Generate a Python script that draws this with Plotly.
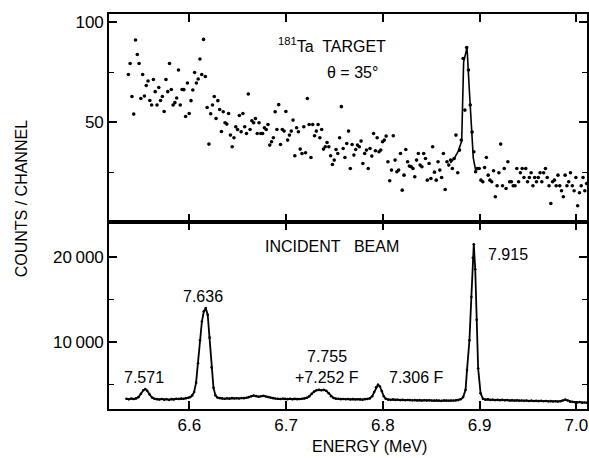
import plotly.graph_objects as go
from plotly.subplots import make_subplots

# ---------------- Data ----------------
# Upper panel: 181Ta target, theta = 35 deg (counts per channel)
target_channel_start = 6.537   # MeV, energy of first channel
target_channel_width = 0.00185 # MeV per channel
target_counts = [
    73.8, 79.3, 62.8, 54, 91, 83.8, 79.3, 61.8, 73.8, 63,
    68.3, 70.5, 60.8, 58.5, 71.3, 65.2, 58.5, 67.3, 60.8, 62.8,
    55.3, 71.3, 65.2, 79.3, 66.3, 58.5, 59.7, 62, 76, 58.5,
    66.3, 66.2, 52.8, 69.5, 54.3, 60.7, 66, 74.8, 69.5, 71.5,
    81.5, 73.8, 91.3, 72.8, 57.3, 39, 54.2, 58.5, 62.8, 51.8,
    60.7, 56.3, 45.3, 55.2, 49.7, 49,
    54.3, 43.5, 37.7, 42.2, 47.7, 46.3, 53.3, 45.2, 54.3, 47.7,
    44.3, 64, 46.3, 50.7, 49.7, 51.8, 44.3, 49.7, 44.3, 44.3,
    47.2, 46.3, 48.8, 38.5, 40.2, 42.2, 55.2, 46.3, 58.7, 38.8,
    46.3, 45.5, 55.3, 41, 43.5, 45.5, 51, 33.2, 47.2, 45.2,
    36.5, 34.3, 47.7, 34.7, 61.8, 48.8, 32.3, 48.8, 43.2, 45.5,
    48.8, 42.2, 46.3, 36.5, 37.7, 39.8, 37.7, 33.2, 28.8, 31,
    36.3, 34.3, 42.2, 57.7,
    36.8, 32.3, 39.3, 45.5, 26.8, 38.8, 33.5, 36.3, 38.5, 37.7,
    40.5, 29.3, 34.3, 36, 26.8, 36.8, 33, 44.3, 35.7, 42.2, 35.2,
    36, 40.2, 41, 43, 30.2, 20.7, 26, 43.2, 31, 25.2,
    26, 34.3, 16, 23.5, 36.3, 30.2, 28, 27.7, 26.8, 22.7, 31,
    34.3, 28.5, 27.7, 34.3, 31.8, 21, 29.3, 21.8, 37.7, 25, 21,
    30.2, 26, 22.3, 34.3, 16.3, 30.2, 28.5, 31, 26.8, 31.8,
    43.5,
    24.7, 36, 41, 81.8, 56, 87.3, 76, 58.5, 45, 35.2, 25.2, 26.8,
    26.8, 21, 20.2, 27.3, 32.3, 23.5, 21, 20.2, 25.7, 12.7,
    18.2, 24.7, 39, 18.2, 26.8, 16.8, 30.2, 20.2, 20.2, 18.2,
    18.2, 26.8, 20.2, 24.7, 26.8, 22.3, 26.8, 20.2, 22.3, 24.7,
    18.2, 22.3, 20.2, 22.3, 24.7, 20.2, 24.7, 26.8, 22.3, 18.2,
    9.3, 20.2, 21, 18.2, 23.5, 18.2, 15.7, 12.7, 23.5, 18.2,
    20.2, 24.7, 18.2, 15.7, 22.3, 8.2, 14.7, 18.2, 22.3, 15.7,
    19.3,
]
target_energy = [target_channel_start + target_channel_width * i
                 for i in range(len(target_counts))]

# Fitted peak line in upper panel
fit_energy = [6.8698, 6.874, 6.878, 6.8815, 6.8835, 6.8855, 6.887,
              6.8895, 6.8915, 6.8935, 6.8963]
fit_counts = [29.5, 32, 35.5, 40.5, 80, 85, 87.3, 65, 45, 32, 25]

# Lower panel: incident beam spectrum
beam_energy = [
    6.535, 6.5375, 6.540, 6.5425, 6.545, 6.5475, 6.550, 6.5525, 6.5545, 6.5565,
    6.559, 6.5615, 6.564, 6.5665, 6.569, 6.5715, 6.574, 6.5765, 6.579, 6.5815,
    6.584, 6.5865, 6.589, 6.5915, 6.594, 6.5965, 6.599, 6.601, 6.603, 6.605,
    6.607, 6.609, 6.611, 6.613, 6.615, 6.617, 6.619, 6.621, 6.623, 6.625,
    6.627, 6.629, 6.6315, 6.634, 6.6365, 6.639, 6.6415, 6.644, 6.6465, 6.649,
    6.6515, 6.654, 6.6565, 6.659, 6.6615, 6.664, 6.6665, 6.669, 6.6715, 6.674,
    6.6765, 6.679, 6.6815, 6.684, 6.6865, 6.689, 6.6915, 6.694, 6.6965, 6.699,
    6.7015, 6.704, 6.7065, 6.709, 6.7115, 6.714, 6.7165, 6.719, 6.7215, 6.724,
    6.7265, 6.729, 6.7315, 6.734, 6.7365, 6.739, 6.7415, 6.744, 6.7465, 6.749,
    6.7515, 6.754, 6.7565, 6.759, 6.7615, 6.764, 6.7665, 6.769, 6.7715, 6.774,
    6.7765, 6.779, 6.7815, 6.784, 6.7865, 6.789, 6.791, 6.793, 6.795, 6.797,
    6.799, 6.801, 6.803, 6.8055, 6.808, 6.8105, 6.813, 6.8155, 6.818, 6.8205,
    6.823, 6.8255, 6.828, 6.8305, 6.833, 6.8355, 6.838, 6.8405, 6.843, 6.8455,
    6.848, 6.8505, 6.853, 6.8555, 6.858, 6.8605, 6.863, 6.8655, 6.868, 6.8705,
    6.873, 6.8755, 6.878, 6.8805, 6.883, 6.8855, 6.887, 6.8895, 6.8915, 6.893,
    6.894, 6.8955, 6.897, 6.8985, 6.901, 6.9035, 6.906, 6.9085, 6.911, 6.9135,
    6.916, 6.9185, 6.921, 6.9235, 6.926, 6.9285, 6.931, 6.9335, 6.936, 6.9385,
    6.941, 6.9435, 6.946, 6.9485, 6.951, 6.9535, 6.956, 6.9585, 6.961, 6.9635,
    6.966, 6.9685, 6.971, 6.9735, 6.976, 6.9785, 6.981, 6.9835, 6.986, 6.9885,
    6.991, 6.9935, 6.996, 6.9985, 7.001, 7.0035, 7.006, 7.0085, 7.011,
]
beam_counts = [
    3300, 3250, 3330, 3280, 3350, 3500, 3900, 4300, 4450, 4250,
    3800, 3450, 3300, 3260, 3220, 3280, 3200, 3250, 3180, 3260,
    3230, 3300, 3270, 3320, 3300, 3380, 3420, 3500, 3700, 4100,
    5200, 7500, 10200, 12400, 13600, 14000, 13200, 10500, 7000, 4600,
    3700, 3450, 3380, 3350, 3300, 3360, 3320, 3380, 3330, 3360,
    3340, 3400, 3380, 3420, 3500, 3600, 3680, 3620, 3550, 3600,
    3650, 3580, 3500, 3420, 3380, 3330, 3300, 3280, 3320, 3290,
    3260, 3300, 3250, 3290, 3260, 3280, 3300, 3350, 3420, 3600,
    3900, 4150, 4300, 4350, 4300, 4350, 4250, 3950, 3600, 3400,
    3320, 3300, 3260, 3280, 3240, 3270, 3230, 3260, 3220, 3250,
    3230, 3200, 3260, 3280, 3350, 3600, 4100, 4650, 4950, 4750,
    4200, 3600, 3300, 3200, 3180, 3220, 3160, 3190, 3150, 3170,
    3130, 3160, 3140, 3120, 3150, 3110, 3140, 3100, 3130, 3090,
    3120, 3100, 3080, 3110, 3090, 3060, 3100, 3080, 3070, 3100,
    3090, 3120, 3150, 3250, 3500, 4350, 6700, 10200, 15300, 19900,
    21500, 18550, 12600, 6900, 3960, 3300, 3200, 3230, 3170, 3200,
    3150, 3180, 3140, 3170, 3120, 3150, 3100, 3130, 3090, 3120,
    3080, 3100, 3060, 3090, 3050, 3080, 3040, 3060, 3030, 3060,
    3020, 3050, 3000, 3030, 2990, 3020, 2980, 3010, 3100, 3200,
    3100, 2960, 2940, 2900, 2880, 2920, 2850, 2870, 2840,
]

x_ticks = [6.6, 6.7, 6.8, 6.9, 7.0]
x_tick_labels = ["6.6", "6.7", "6.8", "6.9", "7.0"]
top_y_ticks = [50, 100]
top_y_labels = ["50", "100"]
top_y_minor = [25, 75]
bot_y_ticks = [10000, 20000]
bot_y_labels = ["10\u2009000", "20\u2009000"]
bot_y_minor = [5000, 15000]

# ---------------- Figure ----------------
fig = make_subplots(rows=2, cols=1, shared_xaxes=True, vertical_spacing=0,
                    row_heights=[0.527, 0.473])

fig.add_trace(go.Scatter(x=target_energy, y=target_counts, mode="markers",
                         marker=dict(color="black", size=3.6),
                         showlegend=False), row=1, col=1)
fig.add_trace(go.Scatter(x=fit_energy, y=fit_counts, mode="lines",
                         line=dict(color="black", width=1.6),
                         showlegend=False), row=1, col=1)
fig.add_trace(go.Scatter(x=beam_energy, y=beam_counts, mode="lines+markers",
                         line=dict(color="black", width=1.8),
                         marker=dict(color="black", size=2.6),
                         showlegend=False), row=2, col=1)

font_family = "Liberation Sans, Arial, sans-serif"
axis_common = dict(showline=True, linewidth=1.6, linecolor="black", mirror="ticks",
                   ticks="inside", ticklen=8, tickwidth=1.5, tickcolor="black",
                   showgrid=False, zeroline=False, automargin=False)

fig.update_xaxes(range=[6.517, 7.011], tickvals=x_ticks, ticktext=x_tick_labels,
                 **axis_common)
fig.update_xaxes(showticklabels=False, row=1, col=1)
fig.update_xaxes(showticklabels=True, row=2, col=1,
                 tickfont=dict(size=17, color="black", family=font_family))

minor_common = dict(ticks="inside", ticklen=5, tickwidth=1.2, tickcolor="black")
fig.update_yaxes(range=[0, 104], tickvals=top_y_ticks, ticktext=top_y_labels,
                 minor=dict(tickvals=top_y_minor, **minor_common),
                 tickfont=dict(size=17, color="black", family=font_family),
                 row=1, col=1, **axis_common)
fig.update_yaxes(range=[2100, 24100], tickvals=bot_y_ticks, ticktext=bot_y_labels,
                 minor=dict(tickvals=bot_y_minor, **minor_common),
                 tickfont=dict(size=17, color="black", family=font_family),
                 row=2, col=1, **axis_common)

ann_font = dict(size=16, color="black", family=font_family)
annotations = [
    dict(x=6.7478, y=88.5, xref="x", yref="y", text="<sup>181</sup>Ta  TARGET"),
    dict(x=6.7685, y=75, xref="x", yref="y", text="\u03b8 = 35\u00b0"),
    dict(x=6.7478, y=21180, xref="x2", yref="y2", text="INCIDENT&nbsp;&nbsp;&nbsp;BEAM"),
    dict(x=6.9297, y=20240, xref="x2", yref="y2", text="7.915"),
    dict(x=6.6145, y=15290, xref="x2", yref="y2", text="7.636"),
    dict(x=6.553, y=5760, xref="x2", yref="y2", text="7.571"),
    dict(x=6.7421, y=8240, xref="x2", yref="y2", text="7.755"),
    dict(x=6.7421, y=5760, xref="x2", yref="y2", text="+7.252 F"),
    dict(x=6.8346, y=5760, xref="x2", yref="y2", text="7.306 F"),
]
for a in annotations:
    fig.add_annotation(showarrow=False, font=ann_font, xanchor="center",
                       yanchor="middle", **a)

# Axis titles
fig.add_annotation(x=-0.184, y=0.531, xref="paper", yref="paper",
                   text="COUNTS / CHANNEL", textangle=-90, showarrow=False,
                   font=dict(size=16, color="black", family=font_family),
                   xanchor="center", yanchor="middle")
fig.add_annotation(x=0.546, y=-0.096, xref="paper", yref="paper",
                   text="ENERGY (MeV)", showarrow=False,
                   font=dict(size=16, color="black", family=font_family),
                   xanchor="center", yanchor="middle")

fig.update_layout(width=589, height=458,
                  margin=dict(l=109, r=2, t=14, b=49),
                  paper_bgcolor="white", plot_bgcolor="white",
                  font=dict(family=font_family, color="black"))

fig.write_html("out.html",
               config={"displayModeBar": False},
               post_script="document.body.style.margin='0px';"
                           "document.body.style.overflow='hidden';")
